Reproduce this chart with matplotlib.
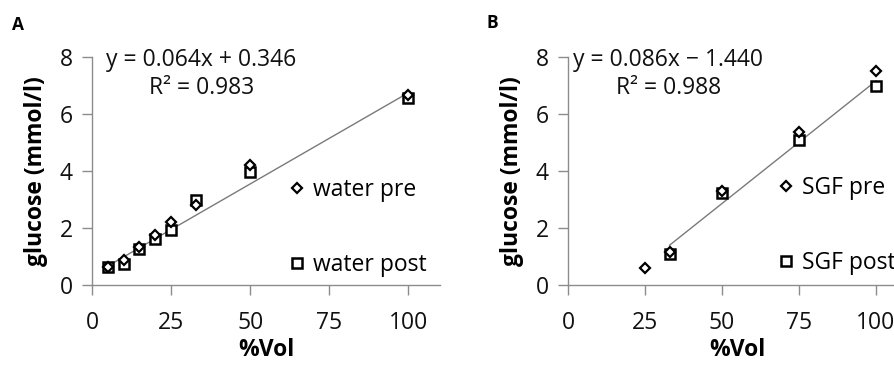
import matplotlib
matplotlib.use("Agg")
import matplotlib.pyplot as plt
import numpy as np

plt.rcParams['font.family'] = ['Open Sans', 'DejaVu Sans']

# Panel A data
a_x = [5, 10, 15, 20, 25, 33, 50, 100]
a_pre = [0.62, 0.88, 1.33, 1.75, 2.2, 2.8, 4.2, 6.65]
a_post = [0.63, 0.73, 1.26, 1.63, 1.93, 2.97, 3.97, 6.55]
a_slope, a_icpt = 0.064, 0.346
a_eq = ["y = 0.064x + 0.346", "R² = 0.983"]
a_labels = ["water pre", "water post"]

# Panel B data
b_x_pre = [25, 33, 50, 75, 100]
b_pre = [0.6, 1.15, 3.3, 5.38, 7.5]
b_x_post = [33, 50, 75, 100]
b_post = [1.08, 3.22, 5.1, 7.0]
b_slope, b_icpt = 0.086, -1.440
b_eq = ["y = 0.086x − 1.440", "R² = 0.988"]
b_labels = ["SGF pre", "SGF post"]

xticks = [0, 25, 50, 75, 100]
yticks = [0, 2, 4, 6, 8]

W, H = 894, 367
fig = plt.figure(figsize=(W / 100, H / 100), dpi=100)

GRAY = '#8c8c8c'
FS = 16.5


def setup(ax):
    ax.set_xlim(0, 110)
    ax.set_ylim(0, 8)
    ax.set_xticks(xticks)
    ax.set_yticks(yticks)
    for s in ['top', 'right']:
        ax.spines[s].set_visible(False)
    for s in ['left', 'bottom']:
        ax.spines[s].set_color(GRAY)
        ax.spines[s].set_linewidth(1.0)
    ax.tick_params(axis='both', colors=GRAY, labelcolor='#111111', length=7,
                   width=1.0, labelsize=FS, direction='out')
    ax.tick_params(axis='x', pad=12)
    ax.tick_params(axis='y', pad=7)
    ax.set_xlabel('%Vol', fontsize=FS, fontweight='bold', labelpad=2)
    ax.set_ylabel('glucose (mmol/l)', fontsize=FS, fontweight='bold', labelpad=8)
    ax.patch.set_alpha(0)


def draw(ax, xp, yp, xq, yq, slope, icpt, xfit, eq, labels, eqx, legx):
    xs = np.array([min(xfit), max(xfit)])
    ax.plot(xs, slope * xs + icpt, color='#7a7a7a', lw=1.0, zorder=1)
    ax.plot(xp, yp, ls='none', marker='D', ms=5.5, mfc='white', mec='black',
            mew=1.6, label=labels[0], zorder=3)
    ax.plot(xq, yq, ls='none', marker='s', ms=7.5, mfc='white', mec='black',
            mew=1.8, label=labels[1], zorder=2)
    ax.text(eqx, 7.9, eq[0], fontsize=FS, ha='center', va='center',
            color='#111111', transform=ax.transData)
    ax.text(eqx, 6.9, eq[1], fontsize=FS, ha='center', va='center',
            color='#111111', transform=ax.transData)
    leg = ax.legend(loc='upper left', bbox_to_anchor=legx, frameon=False,
                    fontsize=FS, labelspacing=2.25, handlelength=1.0,
                    handletextpad=0.2, borderaxespad=0, borderpad=0)
    return leg


axA = fig.add_axes([92 / W, (H - 285) / H, 348 / W, 228 / H])
setup(axA)
draw(axA, a_x, a_pre, a_x, a_post, a_slope, a_icpt, a_x, a_eq, a_labels,
     34.5, (0.555, 0.47))

bw = 3.08 * 110
axB = fig.add_axes([568 / W, (H - 285) / H, bw / W, 228 / H])
setup(axB)
draw(axB, b_x_pre, b_pre, b_x_post, b_post, b_slope, b_icpt, b_x_post, b_eq,
     b_labels, 32.5, (0.609, 0.48))

fig.text(12 / W, 1 - 25 / H, 'A', fontsize=12.5, fontweight='bold', va='center')
fig.text(487 / W, 1 - 23 / H, 'B', fontsize=12.5, fontweight='bold', va='center')

fig.savefig('out.png', dpi=100)
